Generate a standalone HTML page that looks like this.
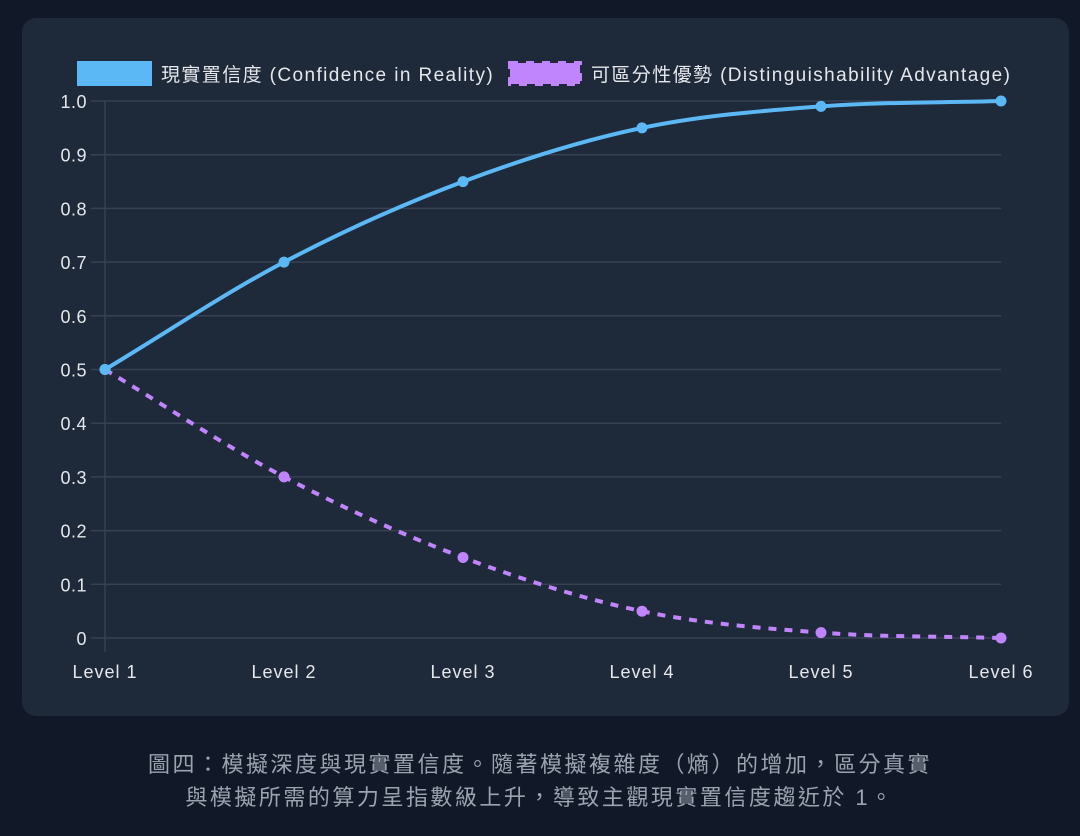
<!DOCTYPE html>
<html><head><meta charset="utf-8"><style>
html,body{margin:0;padding:0;width:1080px;height:836px;background:#111827;overflow:hidden}
body{font-family:"Liberation Sans","Noto Sans CJK TC",sans-serif}
.card{position:absolute;left:22px;top:18px;width:1047px;height:698px;border-radius:14px;background:#1e2939}
.cap{position:absolute;left:0;width:1080px;text-align:center;color:#9ca3af;font-size:22px;letter-spacing:2.5px;line-height:33px;top:748px}
</style></head><body>
<div class="card"></div>
<svg width="1080" height="836" style="position:absolute;left:0;top:0" font-family="Liberation Sans, Noto Sans CJK TC, sans-serif">
<g stroke="#374151" stroke-width="1.5">
<line x1="91" x2="1001" y1="101" y2="101"/><line x1="91" x2="1001" y1="154.7" y2="154.7"/>
<line x1="91" x2="1001" y1="208.4" y2="208.4"/><line x1="91" x2="1001" y1="262.1" y2="262.1"/>
<line x1="91" x2="1001" y1="315.8" y2="315.8"/><line x1="91" x2="1001" y1="369.5" y2="369.5"/>
<line x1="91" x2="1001" y1="423.2" y2="423.2"/><line x1="91" x2="1001" y1="476.9" y2="476.9"/>
<line x1="91" x2="1001" y1="530.6" y2="530.6"/><line x1="91" x2="1001" y1="584.3" y2="584.3"/>
<line x1="91" x2="1001" y1="638" y2="638"/>
<line x1="105" x2="105" y1="101" y2="652"/>
</g>
<g fill="#e5e7eb" font-size="18" text-anchor="end" letter-spacing="0.5">
<text x="87" y="108">1.0</text><text x="87" y="161.7">0.9</text><text x="87" y="215.4">0.8</text>
<text x="87" y="269.1">0.7</text><text x="87" y="322.8">0.6</text><text x="87" y="376.5">0.5</text>
<text x="87" y="430.2">0.4</text><text x="87" y="483.9">0.3</text><text x="87" y="537.6">0.2</text>
<text x="87" y="591.3">0.1</text><text x="87" y="645">0</text>
</g>
<g fill="#e5e7eb" font-size="18" text-anchor="middle" letter-spacing="1">
<text x="105" y="678">Level 1</text><text x="284" y="678">Level 2</text><text x="463" y="678">Level 3</text>
<text x="642" y="678">Level 4</text><text x="821" y="678">Level 5</text><text x="1001" y="678">Level 6</text>
</g>
<path d="M105,369.5 C164.7,333.7 224.3,293.4 284,262.1 C343.7,230.8 403.3,204 463,181.6 C522.7,159.2 582.3,140.4 642,127.9 C701.7,115.4 761.3,110.9 821,106.4 C880.7,101.9 940.3,102.8 1001,101" fill="none" stroke="#5bb8f5" stroke-width="4"/>
<path d="M105,369.5 C164.7,405.3 224.3,445.6 284,476.9 C343.7,508.2 403.3,535 463,557.5 C522.7,579.8 582.3,598.6 642,611.2 C701.7,623.6 761.3,628.1 821,632.6 C880.7,637.1 940.3,636.2 1001,638" fill="none" stroke="#c084fc" stroke-width="4" stroke-dasharray="8 8"/>
<g fill="#5bb8f5"><circle cx="105" cy="369.5" r="5.5"/><circle cx="284" cy="262.1" r="5.5"/><circle cx="463" cy="181.6" r="5.5"/><circle cx="642" cy="127.9" r="5.5"/><circle cx="821" cy="106.4" r="5.5"/><circle cx="1001" cy="101" r="5.5"/></g>
<g fill="#c084fc"><circle cx="284" cy="476.9" r="5.5"/><circle cx="463" cy="557.5" r="5.5"/><circle cx="642" cy="611.2" r="5.5"/><circle cx="821" cy="632.6" r="5.5"/><circle cx="1001" cy="638" r="5.5"/></g>
<circle cx="105" cy="369.5" r="5.5" fill="#5bb8f5"/>
<rect x="77" y="61" width="75" height="25" fill="#5bb8f5"/>
<rect x="510" y="63" width="70" height="21" fill="#c084fc" stroke="#c084fc" stroke-width="4" stroke-dasharray="8 8"/>
<g fill="#e5e7eb" font-size="19" letter-spacing="1.4">
<text x="161" y="81">現實置信度 (Confidence in Reality)</text>
<text x="591" y="81">可區分性優勢 (Distinguishability Advantage)</text>
</g>
</svg>
<div class="cap">圖四：模擬深度與現實置信度。隨著模擬複雜度（熵）的增加，區分真實<br>與模擬所需的算力呈指數級上升，導致主觀現實置信度趨近於 1。</div>
</body></html>
